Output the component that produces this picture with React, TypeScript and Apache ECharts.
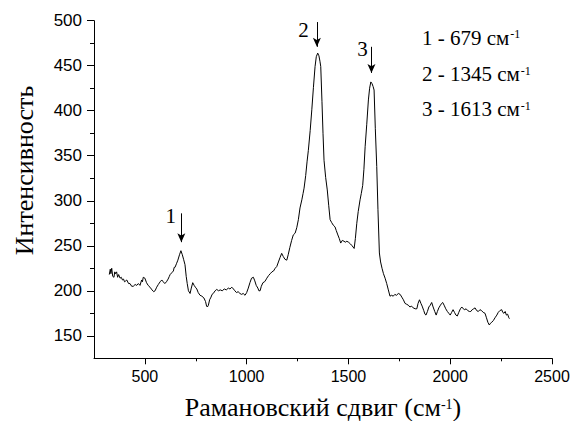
import React, { useEffect, useRef } from "react";
import * as echarts from "echarts";

// Raman spectrum: [shift (cm^-1), intensity]
const spectrum: number[][] = [
  [325,218],[330,224],[333,219],[337,225],[342,216],[348,215],[352,221],[356,219],[361,221],[366,215],[371,218],
  [378,214],[384,215],[390,212],[395,213],[400,210],[406,211],[411,212],[420,208],[427,208],[435,205],[443,205],[452,207],
  [460,206],[468,208],[476,206],[484,212],[488,210],[492,215],[500,214],[508,209],[516,206],[525,204],[535,201],
  [543,199],[550,200],[558,204],[566,207],[575,210],[583,212],[590,210],[598,208],[606,210],[614,213],
  [620,216],[624,218],[632,220],[640,222],[644,226],[648,226],[655,230],[662,234],[670,240],[677,244.5],[684,240],[690,235],
  [697,229],[703,216],[708,208],[714,200],[722,197],[728,203],[735,209],[742,206],[748,204],[755,202],
  [762,198],[771,195],[780,194],[790,192],[798,188],[803,183],[807,182],[812,184],[818,190],[825,193],
  [830,196],[836,197],[845,200],[853,201.5],[862,200],[870,201],[880,200],[890,202],[900,201],[910,203],
  [918,202],[927,204],[935,202],[942,200],[950,198],[958,199],[967,197],[975,196],[983,197],[992,195],
  [1000,198],[1008,203],[1016,209],[1024,214],[1033,215],[1040,211],[1047,206],[1055,203],[1060,200],[1066,200],
  [1072,205],[1080,209],[1088,210],[1094,212],[1099,214],[1108,217],[1116,219],[1124,221],[1132,222],[1140,225],
  [1148,227],[1156,232],[1164,237],[1172,241.6],[1180,238],[1188,235],[1197,234],[1204,240],[1212,248],[1221,256],
  [1229,262],[1238,264],[1246,270],[1254,279],[1262,292],[1271,301],[1277,308],[1282,314],[1290,328],[1297,344],
  [1303,356],[1312,378],[1320,401],[1328,426],[1336,449],[1342,460],[1349,464],[1355,461],[1360,455],[1364,449],
  [1370,410],[1375,375],[1380,345],[1388,326],[1396,312],[1403,295],[1410,279],[1417,276],[1425,273],[1434,271],
  [1440,267],[1448,262],[1455,258],[1462,253],[1470,256],[1478,255],[1485,254],[1492,255],[1500,254],[1510,252],
  [1518,250],[1528,247],[1534,258],[1541,275],[1548,288],[1557,301],[1563,308],[1570,317],[1576,335],[1582,360],
  [1590,385],[1598,412],[1604,425],[1610,432],[1616,430],[1621,427],[1626,423],[1632,380],[1639,338],[1645,290],
  [1652,242],[1658,232],[1665,225],[1672,219],[1680,214],[1688,208],[1696,201],[1704,194],[1712,195],[1720,194],
  [1728,196],[1736,195],[1745,197],[1754,196],[1762,193],[1770,190],[1778,186],[1786,185],[1794,184],[1802,182],
  [1810,183],[1818,181],[1828,180],[1836,180],[1842,186],[1849,190],[1856,186],[1862,183],[1870,178],[1876,174],
  [1881,173],[1888,177],[1895,182],[1902,184],[1909,187],[1916,182],[1924,177],[1931,173],[1937,177],[1944,181],
  [1952,184],[1958,186],[1963,187],[1970,184],[1978,180],[1986,177],[1993,175],[2000,173],[2007,176],[2014,179],
  [2021,176],[2028,173],[2035,172],[2042,176],[2050,180],[2057,182],[2064,180],[2071,179],[2078,180],[2086,178],
  [2094,177],[2101,177],[2108,179],[2115,180],[2122,181],[2130,178],[2138,177],[2146,179],[2154,178],[2162,176],
  [2171,175],[2178,170],[2185,165],[2192,162],[2198,164],[2204,165],[2212,167],[2220,170],[2229,173],[2236,176],
  [2244,178],[2253,179],[2258,176],[2264,175],[2270,177],[2276,173],[2282,174],[2288,170],[2291,169],
];

const xMajorTicks = [500, 1000, 1500, 2000, 2500];
const xMinorTicks = [750, 1250, 1750, 2250];
const yMajorTicks = [150, 200, 250, 300, 350, 400, 450, 500];
const yMinorTicks = [175, 225, 275, 325, 375, 425, 475];

// Peak annotations
const peakLabels = ["1", "2", "3"];
const peakShifts = [679, 1345, 1613];
const arrowTop = [286, 498.5, 471];
const arrowTip = [254, 471, 442];
const legendLines = ["1 - 679 см", "2 - 1345 см", "3 - 1613 см"];

const xTitle = "Рамановский сдвиг (см";
const yTitle = "Интенсивность";

const SERIF = '"Liberation Serif", "Times New Roman", serif';
const SANS = '"Liberation Sans", Arial, sans-serif';

export default function App() {
  const ref = useRef<HTMLDivElement>(null);
  useEffect(() => {
    document.body.style.margin = "0";
    if (!ref.current) return;
    const chart = echarts.init(ref.current, undefined, { renderer: "svg" });
    const labelOffsets = [[-10.5, 3], [-13.5, 8], [-9, 2.5]];
    const plain = (v: number) => String(v);
    const option: any = {
      animation: false,
      backgroundColor: "#fff",
      grid: { left: 94, right: 24, top: 20.7, bottom: 62.7, containLabel: false },
      xAxis: [
        {
          type: "value", min: 250, max: 2500,
          axisLine: { show: true, onZero: false, lineStyle: { color: "#000", width: 1 } },
          axisTick: { show: true, length: 6, customValues: xMajorTicks, lineStyle: { color: "#000" } },
          axisLabel: { customValues: xMajorTicks, formatter: plain, fontFamily: SANS, fontSize: 16, color: "#000", margin: 10 },
          splitLine: { show: false },
        },
        {
          type: "value", min: 250, max: 2500, position: "bottom",
          axisLine: { show: false, onZero: false },
          axisTick: { show: true, length: 3, customValues: xMinorTicks, lineStyle: { color: "#000" } },
          axisLabel: { show: false },
          splitLine: { show: false },
        },
      ],
      yAxis: [
        {
          type: "value", min: 125, max: 500,
          axisLine: { show: true, onZero: false, lineStyle: { color: "#000", width: 1 } },
          axisTick: { show: true, length: 7, customValues: yMajorTicks, lineStyle: { color: "#000" } },
          axisLabel: { customValues: yMajorTicks, formatter: plain, fontFamily: SANS, fontSize: 17, color: "#000", margin: 12 },
          splitLine: { show: false },
        },
        {
          type: "value", min: 125, max: 500, position: "left",
          axisLine: { show: false, onZero: false },
          axisTick: { show: true, length: 4, customValues: yMinorTicks, lineStyle: { color: "#000" } },
          axisLabel: { show: false },
          splitLine: { show: false },
        },
      ],
      series: [
        {
          type: "line",
          data: spectrum,
          xAxisIndex: 0,
          yAxisIndex: 0,
          showSymbol: false,
          symbol: "none",
          lineStyle: { color: "#000", width: 1 },
          silent: true,
          markLine: {
            silent: true,
            symbol: ["none", "arrow"],
            symbolSize: [6, 9],
            label: { show: false },
            lineStyle: { color: "#000", width: 1, type: "solid" },
            emphasis: { disabled: true },
            data: peakShifts.map((p, i) => [
              { coord: [p, arrowTop[i]] },
              { coord: [p, arrowTip[i]] },
            ]),
          },
          markPoint: {
            silent: true,
            symbol: "circle",
            symbolSize: 1,
            itemStyle: { color: "rgba(0,0,0,0)" },
            data: peakShifts.map((p, i) => ({
              coord: [p, arrowTop[i]],
              value: peakLabels[i],
              label: {
                show: true,
                position: "inside",
                formatter: peakLabels[i],
                offset: labelOffsets[i],
                fontFamily: SERIF,
                fontSize: 21,
                color: "#000",
              },
            })),
          },
        },
      ],
      graphic: [
        {
          type: "text", x: 24, y: 170.5, rotation: Math.PI / 2,
          style: { text: yTitle, font: `26px ${SERIF}`, fill: "#000", align: "center", verticalAlign: "middle" },
        },
        {
          type: "text", x: 323, y: 407,
          style: {
            text: xTitle + "{sup|-1})",
            font: `26px ${SERIF}`, fill: "#000", align: "center", verticalAlign: "middle",
            rich: { sup: { font: `14px ${SERIF}`, fill: "#000", verticalAlign: "top", padding: [3, 0, 0, 0] } },
          },
        },
        ...legendLines.map((t, i) => ({
          type: "text", x: 422, y: [37.5, 74, 109][i],
          style: {
            text: t + "{sup|-1}",
            font: `21px ${SERIF}`, fill: "#000", align: "left", verticalAlign: "middle",
            rich: { sup: { font: `12px ${SERIF}`, fill: "#000", verticalAlign: "top", padding: [1, 0, 0, 1] } },
          },
        })),
      ],
    };
    chart.setOption(option);
    return () => chart.dispose();
  }, []);
  return <div ref={ref} style={{ width: 576, height: 421 }} />;
}
